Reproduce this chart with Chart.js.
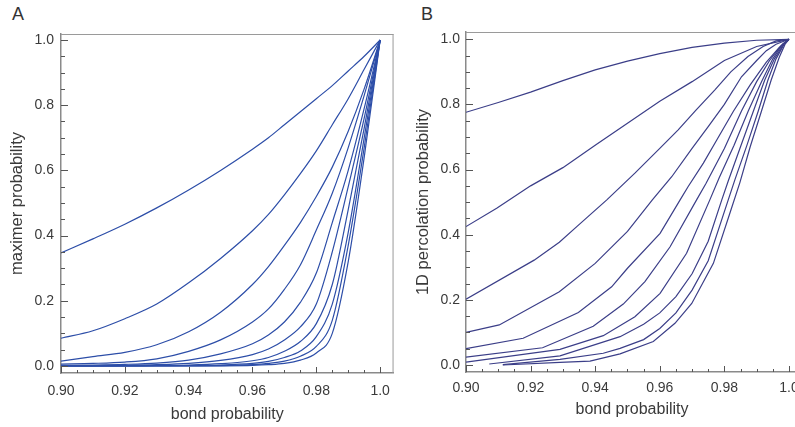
<!DOCTYPE html>
<html>
<head>
<meta charset="utf-8">
<script src="https://cdn.jsdelivr.net/npm/chart.js@4/dist/chart.umd.min.js"></script>
<style>
  html, body { margin: 0; padding: 0; background: #fff; width: 795px; height: 427px; overflow: hidden; }
  .panel { position: absolute; top: 0; }
  #panelA { left: 0; }
  #panelB { left: 400px; }
  .letter { position: absolute; top: 5px; font: 18px "Liberation Sans", Arial, sans-serif; line-height: 1; color: #333; }
</style>
</head>
<body>
<div class="letter" style="left:12px">A</div>
<div class="letter" style="left:421px">B</div>
<canvas id="chartA" class="panel" width="400" height="427"></canvas>
<canvas id="panelB" class="panel" width="420" height="427"></canvas>
<script>
// tick labels
const xTicks = [0.90, 0.92, 0.94, 0.96, 0.98, 1.0];
const yTicks = [0.0, 0.2, 0.4, 0.6, 0.8, 1.0];

// panel A: maximer probability, all curves sampled on the same bond probabilities
const bondA = [0.90, 0.91, 0.92, 0.93, 0.94, 0.95, 0.96, 0.965, 0.97, 0.975, 0.98, 0.985, 0.99, 0.995, 1.0];
const maximer1  = [0.347, 0.39, 0.435, 0.485, 0.54, 0.60, 0.665, 0.70, 0.74, 0.78, 0.82, 0.86, 0.905, 0.95, 1.0];
const maximer2  = [0.085, 0.108, 0.145, 0.19, 0.255, 0.33, 0.415, 0.465, 0.525, 0.59, 0.66, 0.74, 0.82, 0.91, 1.0];
const maximer3  = [0.015, 0.029, 0.042, 0.065, 0.105, 0.165, 0.25, 0.305, 0.37, 0.44, 0.52, 0.61, 0.72, 0.85, 1.0];
const maximer4  = [0.006, 0.008, 0.012, 0.022, 0.045, 0.08, 0.135, 0.175, 0.235, 0.31, 0.417, 0.53, 0.67, 0.83, 1.0];
const maximer5  = [0.002, 0.003, 0.005, 0.009, 0.018, 0.037, 0.068, 0.095, 0.135, 0.195, 0.285, 0.44, 0.60, 0.79, 1.0];
const maximer6  = [0.001, 0.001, 0.002, 0.004, 0.008, 0.017, 0.035, 0.052, 0.08, 0.12, 0.19, 0.35, 0.55, 0.76, 1.0];
const maximer7  = [0.0005, 0.0005, 0.001, 0.0015, 0.003, 0.007, 0.016, 0.026, 0.045, 0.075, 0.13, 0.25, 0.48, 0.73, 1.0];
const maximer8  = [0, 0, 0, 0.001, 0.0015, 0.003, 0.008, 0.014, 0.026, 0.046, 0.09, 0.19, 0.41, 0.70, 1.0];
const maximer9  = [0, 0, 0, 0, 0.0005, 0.001, 0.004, 0.008, 0.015, 0.03, 0.06, 0.14, 0.37, 0.67, 1.0];
const maximer10 = [0, 0, 0, 0, 0, 0.0005, 0.002, 0.004, 0.008, 0.018, 0.04, 0.10, 0.32, 0.64, 1.0];

// panel B: 1D percolation probability, [bond probability, value] per curve
const perc1 = [[0.9,0.776],[0.91,0.806],[0.92,0.838],[0.93,0.873],[0.94,0.906],[0.95,0.933],[0.96,0.956],[0.97,0.975],[0.98,0.988],[0.99,0.997],[1.0,1.0]];
const perc2 = [[0.9,0.425],[0.9095,0.481],[0.92,0.55],[0.93,0.606],[0.94,0.675],[0.95,0.742],[0.96,0.81],[0.97,0.87],[0.98,0.935],[0.99,0.978],[1.0,1.0]];
const perc3 = [[0.9,0.202],[0.9211,0.322],[0.9289,0.377],[0.9343,0.425],[0.9436,0.507],[0.9523,0.589],[0.96,0.665],[0.9657,0.722],[0.971,0.78],[0.977,0.844],[0.982,0.9],[0.9873,0.947],[0.992,0.978],[0.996,0.995],[1.0,1.0]];
const perc4 = [[0.9,0.1],[0.9103,0.123],[0.9289,0.225],[0.94,0.312],[0.95,0.41],[0.9577,0.507],[0.9637,0.578],[0.97,0.665],[0.975,0.732],[0.98,0.80],[0.9853,0.885],[0.99,0.935],[0.993,0.965],[0.996,0.985],[1.0,1.0]];
const perc5 = [[0.9,0.05],[0.9177,0.082],[0.9348,0.161],[0.9451,0.24],[0.95,0.297],[0.9601,0.404],[0.9663,0.507],[0.9688,0.548],[0.9735,0.62],[0.9776,0.69],[0.9828,0.779],[0.988,0.86],[0.993,0.93],[0.997,0.975],[1.0,1.0]];
const perc6 = [[0.9,0.024],[0.9237,0.053],[0.9394,0.119],[0.9487,0.187],[0.9554,0.256],[0.9632,0.363],[0.9714,0.507],[0.9743,0.557],[0.98,0.665],[0.9853,0.78],[0.99,0.87],[0.994,0.935],[0.9975,0.98],[1.0,1.0]];
const perc7 = [[0.9,0.009],[0.9291,0.048],[0.9425,0.09],[0.9523,0.148],[0.9601,0.22],[0.9683,0.343],[0.9755,0.507],[0.9784,0.575],[0.983,0.675],[0.9874,0.78],[0.9915,0.87],[0.995,0.94],[0.998,0.985],[1.0,1.0]];
const perc8 = [[0.9072,0.003],[0.9291,0.028],[0.9477,0.087],[0.955,0.125],[0.96,0.16],[0.965,0.21],[0.97,0.28],[0.975,0.38],[0.9792,0.507],[0.9812,0.565],[0.985,0.67],[0.989,0.78],[0.9925,0.875],[0.9955,0.94],[0.998,0.98],[1.0,1.0]];
const perc9 = [[0.9114,0.001],[0.9291,0.0175],[0.9425,0.036],[0.9477,0.051],[0.955,0.078],[0.96,0.112],[0.965,0.16],[0.97,0.23],[0.975,0.32],[0.9812,0.507],[0.9833,0.57],[0.987,0.675],[0.9905,0.78],[0.9935,0.875],[0.996,0.94],[0.9985,0.985],[1.0,1.0]];
const perc10 = [[0.9114,0.0],[0.9291,0.008],[0.9384,0.012],[0.9477,0.034],[0.958,0.072],[0.9647,0.128],[0.9699,0.189],[0.9766,0.312],[0.9817,0.466],[0.9848,0.56],[0.988,0.67],[0.9915,0.78],[0.9945,0.875],[0.997,0.945],[0.9988,0.985],[1.0,1.0]];

const maximerCurves = [maximer1, maximer2, maximer3, maximer4, maximer5, maximer6, maximer7, maximer8, maximer9, maximer10];
const percCurves = [perc1, perc2, perc3, perc4, perc5, perc6, perc7, perc8, perc9, perc10];

const FONT = '"Liberation Sans", Arial, sans-serif';
const TEXT = '#3a3a3a';

// ticks pointing into the plot + light frame on top (and right)
const insideTicks = {
  id: 'insideTicks',
  afterDatasetsDraw(chart, args, o) {
    const { ctx, chartArea: a, scales: { x, y } } = chart;
    ctx.save();
    ctx.lineWidth = 1;
    ctx.strokeStyle = '#9a9a9a';
    ctx.beginPath();
    ctx.moveTo(a.left, a.top + 0.5);
    ctx.lineTo(a.right, a.top + 0.5);
    if (o.rightEdge) {
      ctx.moveTo(a.right - 0.5, a.top);
      ctx.lineTo(a.right - 0.5, a.bottom);
    }
    ctx.stroke();
    ctx.strokeStyle = '#555';
    ctx.beginPath();
    for (let i = 0; i <= 20; i++) {
      const px = Math.round(x.getPixelForValue(0.9 + i * 0.005)) + 0.5;
      const len = i % 4 === 0 ? 6 : 3;
      ctx.moveTo(px, a.bottom);
      ctx.lineTo(px, a.bottom - len);
    }
    for (let i = 0; i <= 20; i++) {
      const py = Math.round(y.getPixelForValue(i * 0.05)) + 0.5;
      const len = i % 4 === 0 ? 7 : 4;
      ctx.moveTo(a.left, py);
      ctx.lineTo(a.left + len, py);
    }
    ctx.stroke();
    ctx.restore();
  }
};

function makePanel(canvasId, datasets, cfg) {
  return new Chart(document.getElementById(canvasId), {
    type: 'line',
    data: { datasets: datasets },
    options: {
      responsive: false,
      animation: false,
      events: [],
      layout: { padding: { top: cfg.top, right: cfg.right, left: 0, bottom: 0 } },
      plugins: {
        legend: { display: false },
        tooltip: { enabled: false },
        insideTicks: { rightEdge: cfg.rightEdge }
      },
      elements: { point: { radius: 0 } },
      scales: {
        x: {
          type: 'linear',
          min: 0.9,
          max: cfg.xMax,
          afterBuildTicks: s => { s.ticks = xTicks.map(v => ({ value: v })); },
          afterFit: s => { s.height = cfg.xHeight; },
          grid: { display: false, drawTicks: false },
          border: { display: true, color: '#8a8a8a', width: 1.5 },
          ticks: {
            autoSkip: false, maxRotation: 0, padding: cfg.xPad,
            color: TEXT, font: { family: FONT, size: 14 },
            callback: v => (v === 1 ? '1.0' : v.toFixed(2))
          },
          title: {
            display: true, text: 'bond probability', color: TEXT,
            font: { family: FONT, size: 16 }, padding: { top: 0, bottom: cfg.xTitlePad }
          }
        },
        y: {
          type: 'linear',
          min: cfg.yMin,
          max: cfg.yMax,
          afterBuildTicks: s => { s.ticks = yTicks.map(v => ({ value: v })); },
          afterFit: s => { s.width = cfg.yWidth; },
          grid: { display: false, drawTicks: false },
          border: { display: true, color: '#8a8a8a', width: 1.5 },
          ticks: {
            padding: cfg.yPad, color: TEXT, font: { family: FONT, size: 14 },
            callback: v => v.toFixed(1)
          },
          title: {
            display: true, text: cfg.yTitle, color: TEXT,
            font: { family: FONT, size: 16.5 }, padding: { top: cfg.yTitlePad, bottom: 0 }
          }
        }
      }
    },
    plugins: [insideTicks]
  });
}

const dataA = maximerCurves.map(curve => ({
  data: curve.map((v, i) => ({ x: bondA[i], y: v })),
  borderColor: '#2d4ea8',
  borderWidth: 1.2,
  cubicInterpolationMode: 'monotone',
  fill: false
}));

const dataB = percCurves.map(curve => ({
  data: curve.map(([x, v]) => ({ x: x, y: v })),
  borderColor: '#3b3e88',
  borderWidth: 1.2,
  tension: 0,
  fill: false
}));

makePanel('chartA', dataA, {
  top: 34, right: 3, rightEdge: true,
  xMax: 1.0042, yMin: -0.0215, yMax: 1.0184,
  xHeight: 54, yWidth: 61, xPad: 10, yPad: 7, xTitlePad: 3, yTitlePad: 8,
  yTitle: 'maximer probability'
});

makePanel('panelB', dataB, {
  top: 32, right: 22, rightEdge: false,
  xMax: 1.0028, yMin: -0.0215, yMax: 1.0224,
  xHeight: 55, yWidth: 66, xPad: 8, yPad: 6, xTitlePad: 8, yTitlePad: 14,
  yTitle: '1D percolation probability'
});
</script>
</body>
</html>
